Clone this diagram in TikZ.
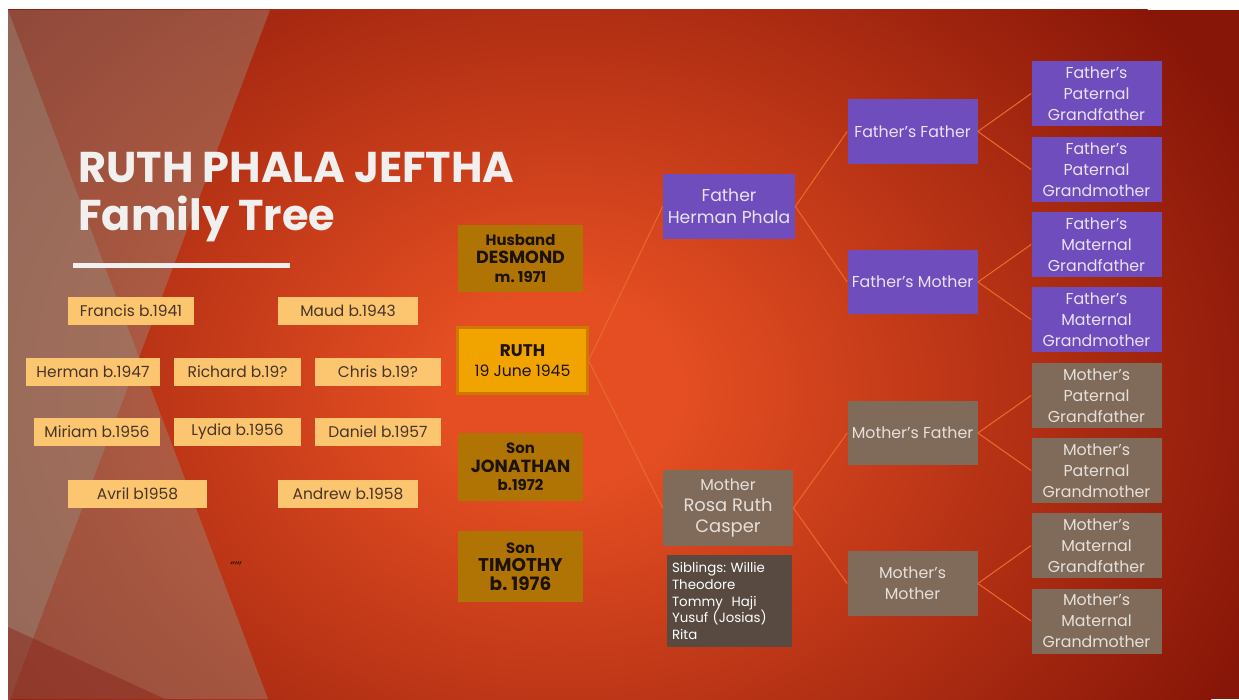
\documentclass[tikz,border=0pt]{standalone}
\usepackage{fontspec}
\setmainfont{Poppins}
\frenchspacing

\definecolor{slidehot}{RGB}{228,78,34}
\definecolor{slidedark}{RGB}{136,22,8}
\definecolor{facet}{RGB}{150,146,132}
\definecolor{facetdark}{RGB}{140,40,28}
\definecolor{titletext}{RGB}{242,240,238}
\definecolor{sibfill}{RGB}{252,198,112}
\definecolor{sibtext}{RGB}{72,52,40}
\definecolor{kinfill}{RGB}{176,116,4}
\definecolor{kintext}{RGB}{28,18,8}
\definecolor{ruthfill}{RGB}{241,163,0}
\definecolor{ruthedge}{RGB}{206,122,0}
\definecolor{dadfill}{RGB}{111,77,189}
\definecolor{dadtext}{RGB}{232,226,242}
\definecolor{mumfill}{RGB}{128,106,90}
\definecolor{mumtext}{RGB}{230,224,218}
\definecolor{sibsfill}{RGB}{88,74,64}
\definecolor{linkcol}{RGB}{234,104,42}

\pgfdeclareradialshading{slideglow}{\pgfpoint{0bp}{0bp}}{color(0bp)=(slidehot); color(4bp)=(slidehot); color(25bp)=(slidedark); color(50bp)=(slidedark)}

\tikzset{
  sibling/.style={fill=sibfill,text=sibtext,minimum width=2.54cm,minimum height=.56cm,inner sep=0pt,font=\fontsize{8.8}{10}\selectfont},
  kin/.style={fill=kinfill,text=kintext,minimum width=2.5cm,minimum height=1.36cm,inner sep=0pt,align=center,font=\bfseries\fontsize{8.5}{10.5}\selectfont},
  self/.style={fill=ruthfill,draw=ruthedge,line width=1.2pt,text=kintext,minimum width=2.6cm,minimum height=1.32cm,inner sep=0pt,align=center,font=\fontsize{8.9}{11.5}\selectfont},
  dad/.style={fill=dadfill,text=dadtext,minimum width=2.6cm,minimum height=1.3cm,inner sep=0pt,align=center,font=\fontsize{9}{11.9}\selectfont},
  mum/.style={fill=mumfill,text=mumtext,minimum width=2.6cm,minimum height=1.3cm,inner sep=0pt,align=center,font=\fontsize{9}{11.9}\selectfont},
  link/.style={draw=linkcol,line width=.6pt}
}

\begin{document}
\begin{tikzpicture}[x=0.02cm,y=-0.02cm]
  \useasboundingbox (0,0) rectangle (1239,699);
  \fill[white] (0,0) rectangle (1239,699);

  % slide background
  \begin{scope}
    \clip (8,10) rectangle (1239,699);
    \fill[slidedark] (8,10) rectangle (1239,699);
    \shade[shading=slideglow] (560,390) ellipse (760 and 600);
    \fill[facet,opacity=.4] (8,10) -- (270,10) -- (8,705) -- cycle;
    \fill[facet,opacity=.4] (8,10) -- (268,699) -- (8,699) -- cycle;
    \fill[facetdark,opacity=.5] (8,627) -- (165,699) -- (8,699) -- cycle;
  \end{scope}

  % title
  \node[anchor=base west,inner sep=0pt,text=titletext,font=\bfseries\fontsize{24.5}{28}\selectfont] (title) at (78,182) {RUTH PHALA JEFTHA};
  \node[anchor=base west,inner sep=0pt,text=titletext,font=\bfseries\fontsize{24.5}{28}\selectfont] (subtitle) at (78,230) {Family Tree};
  \fill[titletext] (73,263) rectangle (290,268);

  % brothers and sisters
  \node[sibling,minimum width=2.52cm] (francis) at (131,311) {Francis b.1941};
  \node[sibling,minimum width=2.8cm] (maud) at (348,311) {Maud b.1943};
  \node[sibling,minimum width=2.68cm] (herman) at (93,372) {Herman b.1947};
  \node[sibling] (richard) at (237.5,372) {Richard b.19?};
  \node[sibling] (chris) at (378,372) {Chris b.19?};
  \node[sibling] (miriam) at (97,432) {Miriam b.1956};
  \node[sibling] (lydia) at (237.5,432) {Lydia b.1956};
  \node[sibling] (daniel) at (378,432) {Daniel b.1957};
  \node[sibling,minimum width=2.78cm] (avril) at (137.5,494) {Avril b1958};
  \node[sibling,minimum width=2.8cm] (andrew) at (348,494) {Andrew b.1958};
  \node[text=kintext,inner sep=0pt,font=\fontsize{7}{7}\selectfont\itshape] (marks) at (237,564) {,,,,,};

  % husband, Ruth and sons
  \node[kin] (husband) at (520.5,258.5) {Husband\\{\fontsize{10}{12}\selectfont DESMOND}\\m. 1971};
  \node[self] (ruth) at (522.5,360.5) {{\bfseries\fontsize{9.6}{11.5}\selectfont RUTH}\\19 June 1945};
  \node[kin] (jonathan) at (520.5,467) {Son\\{\fontsize{10}{12}\selectfont JONATHAN}\\b.1972};
  \node[kin,minimum height=1.42cm] (timothy) at (520.5,566.5) {Son\\{\fontsize{10.5}{12}\selectfont TIMOTHY}\\{\fontsize{10.5}{12}\selectfont b. 1976}};

  % parents
  \node[dad,minimum width=2.64cm,font=\fontsize{9.8}{12.4}\selectfont] (father) at (729,206.5) {Father\\Herman Phala};
  \node[mum,minimum height=1.52cm] (mother) at (728,508) {Mother\\{\fontsize{10.2}{12.6}\selectfont Rosa Ruth}\\{\fontsize{10.2}{12.6}\selectfont Casper}};
  \node[fill=sibsfill,text=white,minimum width=2.5cm,minimum height=1.84cm,inner sep=0pt,text width=2.3cm,align=left,font=\fontsize{7.6}{9.6}\selectfont] (momsibs) at (729.5,601) {Siblings: Willie\\Theodore\\Tommy\ \ Haji\\Yusuf (Josias)\\Rita};

  % grandparents
  \node[dad] (ff) at (912.5,131.5) {Father’s Father};
  \node[dad] (fm) at (912.5,282) {Father’s Mother};
  \node[mum] (mf) at (912.5,433) {Mother’s Father};
  \node[mum] (mm) at (912.5,583.5) {Mother’s\\Mother};

  % great-grandparents
  \node[dad] (fpgf) at (1096.5,93.5) {Father’s\\Paternal\\Grandfather};
  \node[dad] (fpgm) at (1096.5,169.5) {Father’s\\Paternal\\Grandmother};
  \node[dad] (fmgf) at (1096.5,244.5) {Father’s\\Maternal\\Grandfather};
  \node[dad] (fmgm) at (1096.5,319.5) {Father’s\\Maternal\\Grandmother};
  \node[mum] (mpgf) at (1096.5,395.5) {Mother’s\\Paternal\\Grandfather};
  \node[mum] (mpgm) at (1096.5,470.5) {Mother’s\\Paternal\\Grandmother};
  \node[mum] (mmgf) at (1096.5,545.5) {Mother’s\\Maternal\\Grandfather};
  \node[mum] (mmgm) at (1096.5,621) {Mother’s\\Maternal\\Grandmother};

  \draw[link] (ruth.east) -- (father.west);
  \draw[link] (ruth.east) -- (mother.west);
  \draw[link] (father.east) -- (ff.west);
  \draw[link] (father.east) -- (fm.west);
  \draw[link] (mother.east) -- (mf.west);
  \draw[link] (mother.east) -- (mm.west);
  \draw[link] (ff.east) -- (fpgf.west);
  \draw[link] (ff.east) -- (fpgm.west);
  \draw[link] (fm.east) -- (fmgf.west);
  \draw[link] (fm.east) -- (fmgm.west);
  \draw[link] (mf.east) -- (mpgf.west);
  \draw[link] (mf.east) -- (mpgm.west);
  \draw[link] (mm.east) -- (mmgf.west);
  \draw[link] (mm.east) -- (mmgm.west);
\end{tikzpicture}
\end{document}
